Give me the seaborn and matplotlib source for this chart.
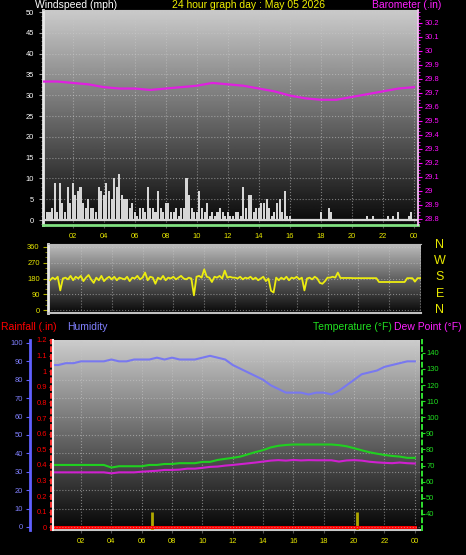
import numpy as np
import pandas as pd
import seaborn as sns
import matplotlib.pyplot as plt
from matplotlib.ticker import MultipleLocator

plt.rcParams['font.family'] = ['Liberation Sans', 'DejaVu Sans']

# ---------------- data ----------------
hour_ticks = [2, 4, 6, 8, 10, 12, 14, 16, 18, 20, 22, 24]
hour_labels = ['02', '04', '06', '08', '10', '12', '14', '16', '18', '20', '22', '00']

# wind speed (mph), 10 minute steps
wind_speed = [
    4, 2, 2, 2, 3, 9,
    2, 9, 4, 2, 8, 4,
    9, 6, 7, 8, 4, 3,
    5, 3, 3, 2, 8, 7,
    6, 9, 7, 5, 10, 8,
    11, 6, 5, 5, 3, 4,
    2, 1, 3, 3, 2, 8,
    3, 3, 2, 7, 3, 2,
    4, 4, 2, 2, 3, 1,
    3, 3, 10, 6, 3, 2,
    2, 7, 3, 2, 4, 1,
    2, 1, 2, 3, 2, 1,
    2, 1, 1, 2, 2, 1,
    8, 3, 6, 6, 2, 3,
    3, 4, 4, 5, 3, 1,
    2, 4, 5, 2, 7, 1,
    1, 0, 0, 0, 0, 0,
    0, 0, 0, 0, 0, 0,
    2, 0, 0, 3, 2, 0,
    0, 0, 0, 0, 0, 0,
    0, 0, 0, 0, 0, 0,
    1, 0, 1, 0, 0, 0,
    0, 0, 1, 0, 1, 0,
    2, 0, 0, 0, 1, 2,
]

# barometer (.in), hourly
baro_hours = list(range(25))
baro = [29.78, 29.78, 29.77, 29.76, 29.74, 29.73, 29.73, 29.72, 29.73, 29.74,
        29.75, 29.77, 29.76, 29.75, 29.73, 29.71, 29.68, 29.66, 29.65, 29.65,
        29.67, 29.69, 29.71, 29.73, 29.74]

# wind direction (deg), 10 minute steps
wind_dir = [
    170, 185, 175, 190, 112, 180,
    185, 175, 195, 170, 190, 180,
    195, 165, 185, 200, 175, 155,
    185, 170, 195, 165, 180, 190,
    175, 190, 170, 185, 180, 175,
    190, 165, 185, 180, 195, 175,
    185, 214, 170, 190, 185, 150,
    185, 175, 195, 170, 185, 180,
    190, 175, 185, 195, 180, 175,
    185, 180, 84, 190, 195, 185,
    232, 190, 185, 160, 190, 185,
    195, 180, 225, 185, 190, 185,
    185, 180, 190, 175, 185, 180,
    190, 175, 185, 170, 180, 190,
    165, 180, 110, 100, 185, 170,
    185, 175, 190, 170, 185, 180,
    190, 175, 185, 112, 180, 185,
    175, 190, 180, 155, 150, 165,
    185, 185, 190, 185, 214, 183,
    183, 183, 183, 183, 182, 182,
    182, 182, 182, 182, 182, 182,
    182, 182, 160, 160, 160, 160,
    160, 160, 160, 160, 160, 160,
    160, 182, 182, 182, 162, 182,
    182,
]

# bottom panel, half hour steps
humidity = [88, 88, 89, 89, 90, 90, 90, 90, 91, 90,
            90, 91, 91, 91, 92, 91, 92, 91, 91, 91,
            92, 93, 92, 91, 88, 86, 84, 82, 80, 77,
            75, 73, 73, 73, 72, 73, 73, 72, 74, 77,
            80, 83, 84, 85, 87, 88, 89, 90, 90]
temperature = [70.4, 70.4, 70.4, 70.4, 70.4, 70.4, 70.4, 70.4, 68.8, 69.6,
               69.6, 69.6, 69.6, 70.4, 70.4, 71.0, 71.0, 71.5, 71.5, 71.5,
               72.3, 72.3, 73.5, 74.2, 74.8, 75.6, 77.0, 78.4, 79.6, 81.3,
               82.3, 82.8, 83.1, 83.1, 83.1, 83.1, 83.1, 83.1, 82.7, 82.0,
               80.8, 79.5, 78.3, 77.4, 76.6, 76.0, 75.6, 74.8, 74.8]
dew_point = [65.8, 65.8, 65.8, 65.8, 65.8, 65.8, 65.8, 65.8, 65.2, 65.8,
             65.8, 65.8, 66.2, 66.5, 66.8, 67.3, 67.3, 67.5, 68.1, 68.1,
             68.6, 69.2, 69.4, 70.0, 70.4, 70.9, 71.4, 71.9, 72.5, 73.1,
             73.4, 73.1, 73.5, 73.2, 73.4, 73.3, 73.3, 73.3, 72.5, 73.2,
             73.4, 73.1, 72.4, 72.0, 71.7, 71.5, 71.9, 71.5, 71.3]

rain_hours = [0, 24]
rain_total = [0.0, 0.0]
rain_tip_hours = [6.7, 20.2]
rain_tip = [0.1, 0.1]

# ---------------- layout ----------------
W, H = 466, 555
fig = plt.figure(figsize=(W / 100, H / 100), dpi=100, facecolor='black')


def box(x0, y0, x1, y1):
    return [x0 / W, 1 - y1 / H, (x1 - x0) / W, (y1 - y0) / H]


def gradient(ax, top, bottom):
    g = np.linspace(top, bottom, 256).reshape(-1, 1)
    ax.imshow(g, cmap='gray', vmin=0, vmax=1, extent=[0, 1, 0, 1],
              transform=ax.transAxes, aspect='auto', zorder=0)


def no_spines(ax):
    for s in ax.spines.values():
        s.set_visible(False)


grid_kw = dict(color='#c8c8c8', ls=':', lw=0.8, alpha=0.55)
tick_fs = 5.4
yellow = '#e8e800'

# ---- top: wind speed + barometer ----
ax_w = fig.add_axes(box(43, 10, 418, 225))
ax_w.set_facecolor('black')
gradient(ax_w, 0.80, 0.03)
wind_df = pd.DataFrame({'hour': np.arange(len(wind_speed)) / 6, 'speed': wind_speed})
sns.barplot(data=wind_df, x='hour', y='speed', native_scale=True, width=0.8,
            color='#d6d6d6', saturation=1, errorbar=None, ax=ax_w, zorder=3)
ax_w.axhline(0, color='#d8d8d8', lw=1.6, zorder=4)
ax_w.set(xlabel='', ylabel='')
ax_w.set_xlim(0.08, 24.26)
ax_w.set_ylim(-1.2, 50.5)
ax_w.set_xticks(hour_ticks, hour_labels)
ax_w.set_yticks(range(0, 51, 5))
ax_w.yaxis.set_minor_locator(MultipleLocator(1))
ax_w.tick_params(axis='x', colors='#505050', labelcolor=yellow, labelsize=tick_fs, length=2.5, pad=3)
ax_w.tick_params(axis='y', which='major', colors='#a0a0a0', labelcolor='white', labelsize=tick_fs, length=3, pad=3.5)
ax_w.tick_params(axis='y', which='minor', colors='#808080', length=1.5)
ax_w.grid(True, **grid_kw)
no_spines(ax_w)
ax_w.spines['left'].set_visible(True)
ax_w.spines['left'].set_color('#e8e8e8')
ax_w.spines['left'].set_linewidth(2)
ax_w.spines['top'].set_visible(True)
ax_w.spines['top'].set_color('#c8c8c8')
ax_w.spines['bottom'].set_visible(True)
ax_w.spines['bottom'].set_color('#80e080')
ax_w.spines['bottom'].set_linewidth(2)

ax_p = ax_w.twinx()
sns.lineplot(x=baro_hours, y=baro, color='#e020e0', lw=1.6, ax=ax_p)
ax_p.set(ylabel='')
ax_p.set_ylim(28.757, 30.29)
baro_ticks = np.round(np.arange(28.8, 30.21, 0.1), 1)
ax_p.set_yticks(baro_ticks, [f'{t:g}' for t in baro_ticks])
ax_p.yaxis.set_minor_locator(MultipleLocator(0.025))
ax_p.tick_params(axis='y', which='major', colors='#ff00ff', labelcolor='#ff10ff', labelsize=tick_fs, length=3, pad=2)
ax_p.tick_params(axis='y', which='minor', colors='#ff00ff', length=1.5)
no_spines(ax_p)
ax_p.spines['right'].set_visible(True)
ax_p.spines['right'].set_color('#f4c0f4')
ax_p.spines['right'].set_linestyle((0, (1, 1)))
ax_p.spines['right'].set_linewidth(1.3)

# ---- middle: wind direction ----
ax_d = fig.add_axes(box(48, 244, 421, 313))
ax_d.set_facecolor('black')
gradient(ax_d, 0.74, 0.03)
sns.lineplot(x=np.arange(len(wind_dir)) / 6, y=wind_dir, color='#ecec10', lw=1.3, ax=ax_d, zorder=3)
ax_d.set_xlim(-0.13, 24.06)
ax_d.set_ylim(-17, 377)
ax_d.set_xticks(hour_ticks)
ax_d.set_yticks([0, 90, 180, 270, 360])
ax_d.yaxis.set_minor_locator(MultipleLocator(30))
ax_d.tick_params(axis='x', length=0, labelbottom=False)
ax_d.tick_params(axis='y', which='major', colors='#b0b000', labelcolor=yellow, labelsize=tick_fs, length=3.5, pad=2.5)
ax_d.tick_params(axis='y', which='minor', colors='#909000', length=2)
ax_d.grid(True, **grid_kw)
no_spines(ax_d)
ax_d.spines['left'].set_visible(True)
ax_d.spines['left'].set_color('#e8e8e8')
ax_d.spines['left'].set_linewidth(2)
ax_d.spines['bottom'].set_visible(True)
ax_d.spines['bottom'].set_color('#c0c0c0')
ax_d.spines['bottom'].set_linewidth(1.5)
ax_d.spines['top'].set_visible(True)
ax_d.spines['top'].set_color('#b8b8b8')
for lab, yy in zip(['N', 'W', 'S', 'E', 'N'], [245, 261, 277, 294, 310]):
    fig.text(440 / W, 1 - yy / H, lab, color=yellow, fontsize=9, ha='center', va='center')

# ---- bottom: rain, humidity, temperature, dew point ----
ax_r = fig.add_axes(box(53, 340, 420, 530))
ax_r.set_facecolor('black')
gradient(ax_r, 0.80, 0.02)
ax_r.vlines(rain_tip_hours, -0.02, rain_tip, color='#b0a800', lw=2, zorder=3)
sns.lineplot(x=rain_hours, y=rain_total, color='#ff0000', lw=2.2, ax=ax_r, zorder=4)
ax_r.set_xlim(0.15, 24.34)
ax_r.set_ylim(-0.0173, 1.2)
rain_ticks = np.round(np.arange(0, 1.21, 0.1), 1)
ax_r.set_yticks(rain_ticks, [f'{t:g}' for t in rain_ticks])
ax_r.set_xticks(hour_ticks, hour_labels)
ax_r.tick_params(axis='x', colors='#505050', labelcolor=yellow, labelsize=tick_fs, length=2.5, pad=3.6)
ax_r.tick_params(axis='y', colors='#ff2020', labelcolor='#ff0000', labelsize=tick_fs, length=1.5, pad=1.5)
ax_r.grid(True, axis='x', **grid_kw)
no_spines(ax_r)
ax_r.spines['left'].set_visible(True)
ax_r.spines['left'].set_position(('outward', 1.2))
ax_r.spines['left'].set_color('#ff3030')
ax_r.spines['left'].set_linestyle((0, (2, 2)))
ax_r.spines['left'].set_linewidth(1.4)
ax_r.spines['bottom'].set_visible(True)
ax_r.spines['bottom'].set_color('#c8c8c8')
ax_r.spines['bottom'].set_linewidth(1.5)

ax_h = ax_r.twinx()
sns.lineplot(x=np.arange(len(humidity)) / 2, y=humidity, color='#7878f0', lw=1.5, ax=ax_h)
ax_h.set(ylabel='')
ax_h.set_ylim(-1.63, 101.6)
ax_h.yaxis.tick_left()
ax_h.set_yticks(range(0, 101, 10))
ax_h.tick_params(axis='y', colors='#6060ff', labelcolor='#8080ff', labelsize=tick_fs, length=3, pad=2)
ax_h.grid(True, axis='y', **grid_kw)
no_spines(ax_h)
ax_h.spines['left'].set_visible(True)
ax_h.spines['left'].set_position(('outward', 16.5))
ax_h.spines['left'].set_color('#6060ff')
ax_h.spines['left'].set_linewidth(2)

ax_t = ax_r.twinx()
sns.lineplot(x=np.arange(len(temperature)) / 2, y=temperature, color='#20d020', lw=1.5, ax=ax_t)
sns.lineplot(x=np.arange(len(dew_point)) / 2, y=dew_point, color='#d020d0', lw=1.5, ax=ax_t)
ax_t.set(ylabel='')
ax_t.set_ylim(30, 148)
ax_t.set_yticks(range(40, 141, 10))
ax_t.tick_params(axis='y', colors='#20e020', labelcolor='#20e020', labelsize=tick_fs, length=2, pad=1)
no_spines(ax_t)
ax_t.spines['right'].set_visible(True)
ax_t.spines['right'].set_position(('outward', 1.4))
ax_t.spines['right'].set_color('#30e030')
ax_t.spines['right'].set_linestyle((0, (2, 2)))
ax_t.spines['right'].set_linewidth(1.4)
ax_t.spines['left'].set_visible(True)
ax_t.spines['left'].set_color('#f0f0f0')
ax_t.spines['left'].set_linewidth(1.5)

# ---- titles ----
tfs = 7.5
fig.text(35 / W, 1 - 8 / H, 'Windspeed (mph)', color='white', fontsize=tfs, va='baseline')
fig.text(172 / W, 1 - 8 / H, '24 hour graph day : May 05 2026', color='#f0f000', fontsize=tfs, va='baseline')
fig.text(372 / W, 1 - 8 / H, 'Barometer (.in)', color='#ff20ff', fontsize=tfs, va='baseline')
fig.text(1 / W, 1 - 330 / H, 'Rainfall (.in)', color='#ff0000', fontsize=tfs, va='baseline')
fig.text(67 / W, 1 - 330 / H, 'Humidity', color='#8080ff', fontsize=tfs, va='baseline')
fig.text(313 / W, 1 - 330 / H, 'Temperature (°F)', color='#20e020', fontsize=tfs, va='baseline')
fig.text(394 / W, 1 - 330 / H, 'Dew Point (°F)', color='#ff20ff', fontsize=tfs, va='baseline')

fig.savefig('out.png', dpi=100, facecolor='black')
